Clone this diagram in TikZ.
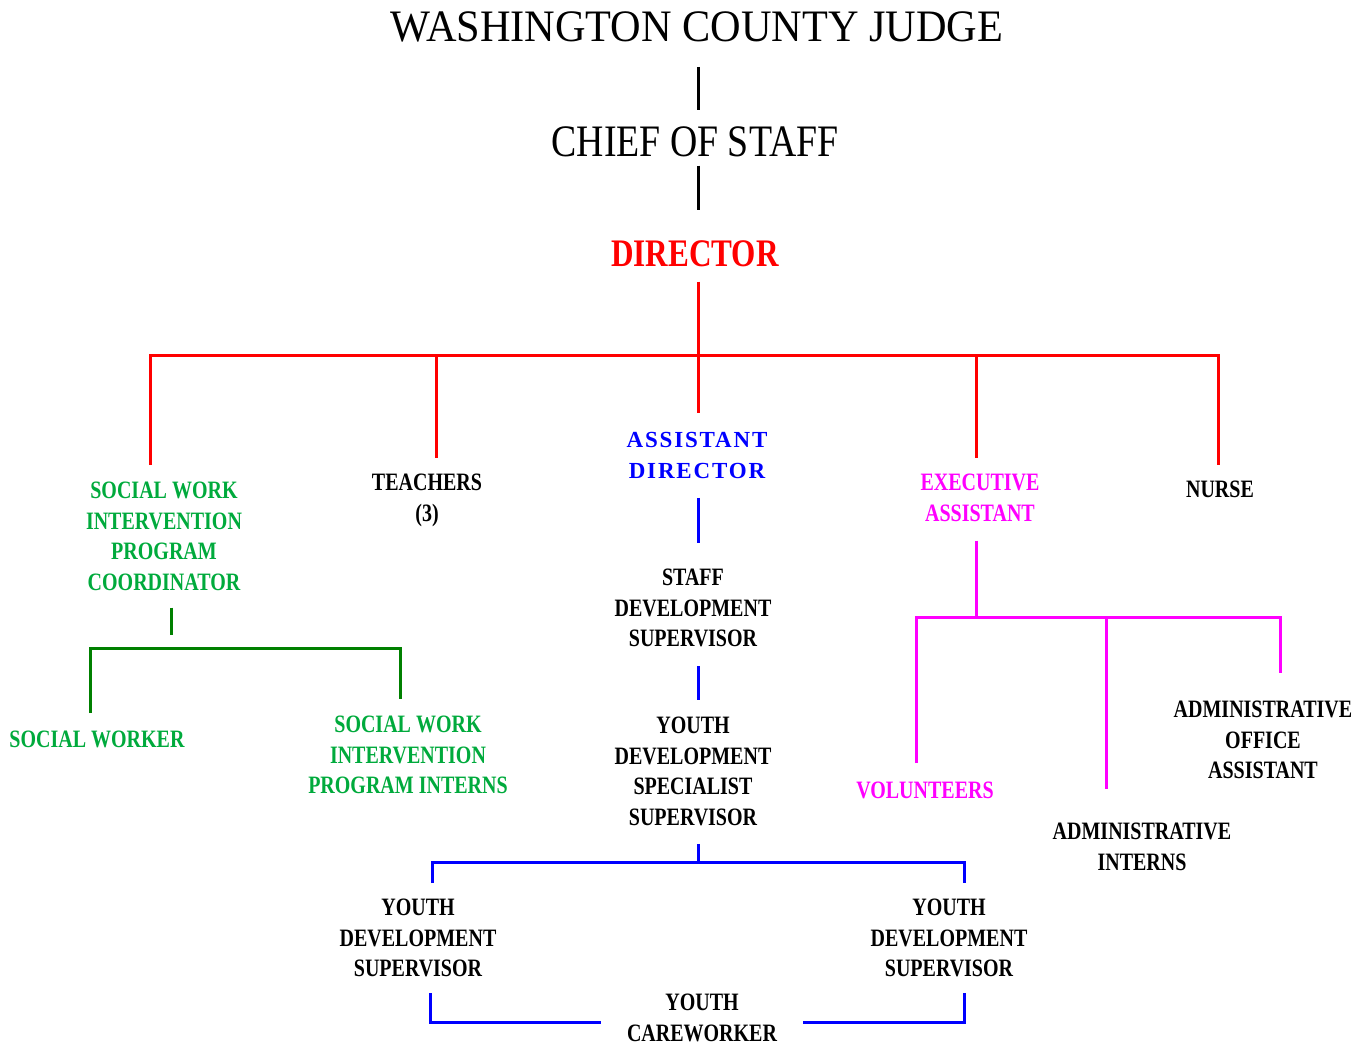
\documentclass[tikz,border=0pt]{standalone}
\usepackage{fontspec}
\setmainfont{Liberation Serif}
\newfontfamily\widefont[FakeStretch=0.94]{Liberation Serif}
\newfontfamily\chieffont[FakeStretch=0.84]{Liberation Serif}
\newfontfamily\narrowfont[FakeStretch=0.8]{Liberation Serif}
\newfontfamily\spacedfont[LetterSpace=8]{Liberation Serif}
\usepackage{tikz}
\definecolor{chartgreen}{RGB}{0,170,60}
\definecolor{linegreen}{RGB}{0,128,0}
\definecolor{chartblue}{RGB}{0,0,255}
\definecolor{chartpink}{RGB}{255,0,255}

\begin{document}
\begin{tikzpicture}[
    x=1pt, y=-1pt,
    every node/.style={inner sep=0pt},
    title text/.style={anchor=north, align=center, font=\widefont\fontsize{45}{54}\selectfont},
    chief text/.style={anchor=north, align=center, font=\chieffont\fontsize{45}{54}\selectfont},
    head text/.style={anchor=north, align=center, font=\narrowfont\bfseries\fontsize{39}{46}\selectfont},
    spaced text/.style={anchor=north, align=center, font=\spacedfont\bfseries\fontsize{23}{31}\selectfont},
    label text/.style={anchor=north, align=center, font=\narrowfont\bfseries\fontsize{25}{30.5}\selectfont},
    black line/.style={line width=3pt, black},
    red line/.style={line width=3pt, red},
    green line/.style={line width=3pt, linegreen},
    blue line/.style={line width=3pt, chartblue},
    pink line/.style={line width=3pt, chartpink}
    ]
    \useasboundingbox (0,0) rectangle (1369,1044);

    % top of the chart
    \node[title text] (judge) at (697,12) {WASHINGTON COUNTY JUDGE};
    \node[chief text] (chief) at (695,127) {CHIEF OF STAFF};
    \node[head text, red] (director) at (695,240) {DIRECTOR};

    % under the director
    \node[label text, chartgreen] (swc) at (164,482) {SOCIAL WORK\\INTERVENTION\\PROGRAM\\COORDINATOR};
    \node[label text] (teach) at (427,474) {TEACHERS\\(3)};
    \node[spaced text, chartblue] (asst) at (697,432) {ASSISTANT\\DIRECTOR};
    \node[label text, chartpink] (exec) at (980,474) {EXECUTIVE\\ASSISTANT};
    \node[label text] (nurse) at (1220,481) {NURSE};

    % green branch
    \node[label text, chartgreen] (worker) at (97,731) {SOCIAL WORKER};
    \node[label text, chartgreen] (interns) at (408,716) {SOCIAL WORK\\INTERVENTION\\PROGRAM INTERNS};

    % blue branch
    \node[label text] (staff) at (693,569) {STAFF\\DEVELOPMENT\\SUPERVISOR};
    \node[label text] (spec) at (693,717) {YOUTH\\DEVELOPMENT\\SPECIALIST\\SUPERVISOR};
    \node[label text] (ydsL) at (418,899) {YOUTH\\DEVELOPMENT\\SUPERVISOR};
    \node[label text] (ydsR) at (949,899) {YOUTH\\DEVELOPMENT\\SUPERVISOR};
    \node[label text] (care) at (702,994) {YOUTH\\CAREWORKER};

    % pink branch
    \node[label text, chartpink] (volunteers) at (925,782) {VOLUNTEERS};
    \node[label text] (admininterns) at (1142,823) {ADMINISTRATIVE\\INTERNS};
    \node[label text] (officeasst) at (1263,701) {ADMINISTRATIVE\\OFFICE\\ASSISTANT};

    % bus points
    \coordinate (spine) at (698,0);
    \coordinate (rbusL) at (150,355);
    \coordinate (rbusR) at (1218,355);
    \coordinate (rteach) at (436,355);
    \coordinate (rexec) at (976,355);
    \coordinate (gbus) at (171,648);
    \coordinate (gbusL) at (90,648);
    \coordinate (gbusR) at (400,648);
    \coordinate (bbus) at (698,862);
    \coordinate (bbusL) at (432,862);
    \coordinate (bbusR) at (964,862);
    \coordinate (cbL) at (430,1022);
    \coordinate (cbR) at (964,1022);
    \coordinate (mbus) at (976,617);
    \coordinate (mbusL) at (916,617);
    \coordinate (mbusR) at (1280,617);
    \coordinate (mmid) at (1106,617);

    % black lines
    \draw[black line] ([yshift=-24pt]spine |- judge.south) -- ([yshift=17pt]spine |- chief.north);
    \draw[black line] ([yshift=-8pt]spine |- chief.south) -- ([yshift=30pt]spine |- director.north);
    % red lines
    \draw[red line] ([yshift=-15pt]spine |- director.south) -- ([yshift=19pt]spine |- asst.north);
    \draw[red line] ([yshift=17pt]rbusL |- swc.north) -- (rbusL) -- (rbusR) -- ([yshift=16pt]rbusR |- nurse.north);
    \draw[red line] (rteach) -- ([yshift=16pt]rteach |- teach.north);
    \draw[red line] (rexec) -- ([yshift=16pt]rexec |- exec.north);
    % green lines
    \draw[green line] ([yshift=-17pt]gbus |- swc.south) -- ([yshift=13pt]gbus);
    \draw[green line] ([yshift=18pt]gbusL |- worker.north) -- (gbusL) -- (gbusR) -- ([yshift=17pt]gbusR |- interns.north);
    % blue lines
    \draw[blue line] ([yshift=-19pt]spine |- asst.south) -- ([yshift=26pt]spine |- staff.north);
    \draw[blue line] ([yshift=-19pt]spine |- staff.south) -- ([yshift=17pt]spine |- spec.north);
    \draw[blue line] ([yshift=-18pt]bbus |- spec.south) -- (bbus);
    \draw[blue line] ([yshift=16pt]bbusL |- ydsL.north) -- (bbusL) -- (bbusR) -- ([yshift=16pt]bbusR |- ydsR.north);
    \draw[blue line] ([yshift=-16pt]cbL |- ydsL.south) -- (cbL) -- ([xshift=-26pt]care.west |- cbL);
    \draw[blue line] ([yshift=-16pt]cbR |- ydsR.south) -- (cbR) -- ([xshift=26pt]care.east |- cbR);
    % pink lines
    \draw[pink line] ([yshift=-19pt]mbus |- exec.south) -- (mbus);
    \draw[pink line] ([yshift=19pt]mbusL |- volunteers.north) -- (mbusL) -- (mbusR) -- ([yshift=28pt]mbusR |- officeasst.north);
    \draw[pink line] (mmid) -- ([yshift=34pt]mmid |- admininterns.north);
\end{tikzpicture}
\end{document}
